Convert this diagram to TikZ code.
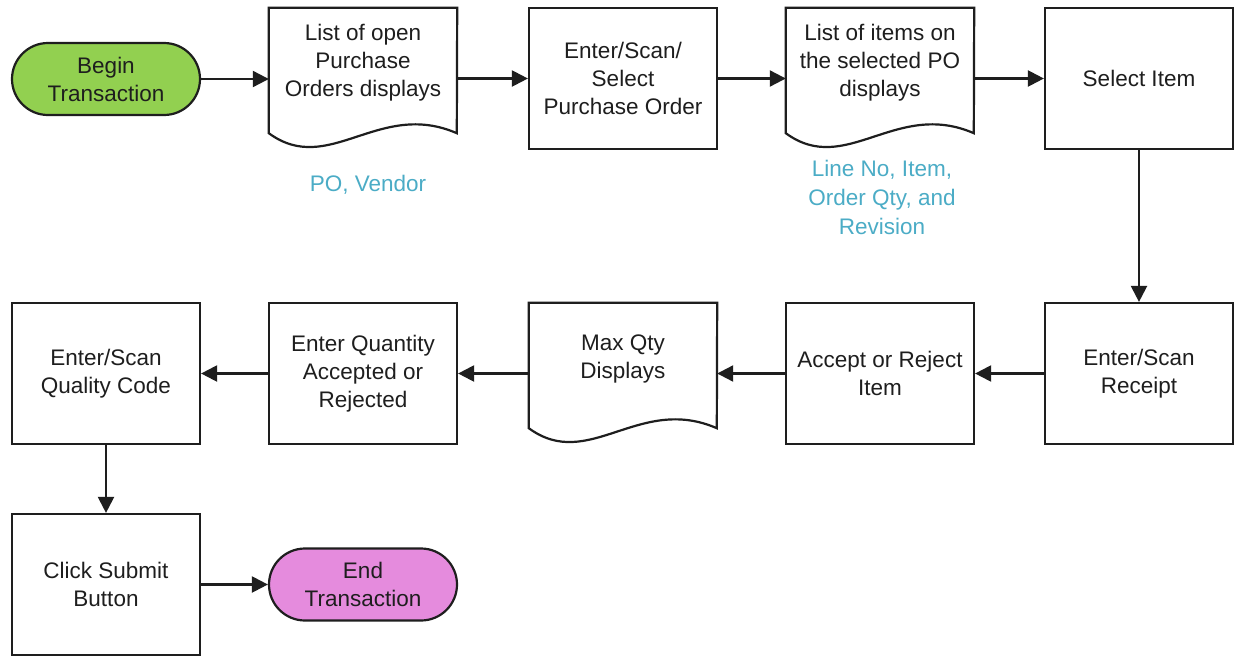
\documentclass[tikz,border=0pt]{standalone}
\usepackage{fontspec}
\setmainfont{Liberation Sans}
\usetikzlibrary{arrows.meta,calc,shapes.misc}
\definecolor{begingreen}{HTML}{92D050}
\definecolor{endpink}{HTML}{E58BDD}
\definecolor{noteblue}{HTML}{4BACC6}
\definecolor{ink}{HTML}{1E1E1E}
\tikzset{
  base/.style={font=\fontsize{22.5}{28}\selectfont, text=ink, align=center},
  procbox/.style={base, draw=ink, line width=2.2pt, fill=white, minimum width=188pt, minimum height=141pt, inner sep=0pt},
  docbox/.style={base, minimum width=188pt, minimum height=141pt, inner sep=0pt},
  doctext/.style={base, inner sep=0pt},
  pill/.style={base, draw=ink, line width=2.2pt, rounded rectangle, minimum width=188pt, minimum height=72pt, inner sep=0pt},
  note/.style={font=\fontsize{22.5}{29}\selectfont, text=noteblue, align=center},
  outline/.style={draw=ink, line width=2.2pt, fill=white},
  flow/.style={draw=ink, line width=2.2pt, -{Triangle[length=16pt,width=16pt]}},
}
\newcommand\docoutline[1]{%
  \draw[outline] (#1.north west) -- (#1.north east) -- ($(#1.south west)+(188,-16)$)
    .. controls ($(#1.south west)+(110,-50)$) and ($(#1.south west)+(60,28)$) .. ($(#1.south west)+(0,-16)$) -- cycle;}
\begin{document}
\begin{tikzpicture}[x=1pt,y=-1pt]
\useasboundingbox[fill=white] (0,0) rectangle (1235,656);

% top row
\node[pill, fill=begingreen] (begin) at (106,79) {Begin\\Transaction};
\node[docbox] (d1) at (363,78.5) {};
\docoutline{d1}
\node[doctext] (d1t) at ([yshift=15.5pt]d1.center) {List of open\\Purchase\\Orders displays};
\node[procbox] (enter) at (623,78.5) {Enter/Scan/\\Select\\Purchase Order};
\node[docbox] (d2) at (880,78.5) {};
\docoutline{d2}
\node[doctext] (d2t) at ([yshift=15.5pt]d2.center) {List of items on\\the selected PO\\displays};
\node[procbox] (sel) at (1139,78.5) {Select Item};

\node[note] (n1) at (368,185) {PO, Vendor};
\node[note] (n2) at (882,197) {Line No, Item,\\Order Qty, and\\Revision};

% middle row
\node[procbox] (rec) at (1139,373.5) {Enter/Scan\\Receipt};
\node[procbox] (acc) at (880,373.5) {Accept or Reject\\Item};
\node[docbox] (d3) at (623,373.5) {};
\docoutline{d3}
\node[doctext] (d3t) at ([yshift=15pt]d3.center) {Max Qty\\Displays};
\node[procbox] (qty) at (363,373.5) {Enter Quantity\\Accepted or\\Rejected};
\node[procbox] (qual) at (106,373.5) {Enter/Scan\\Quality Code};

% bottom row
\node[procbox] (sub) at (106,584.5) {Click Submit\\Button};
\node[pill, fill=endpink] (end) at (363,584.5) {End\\Transaction};

% connectors
\draw[flow] (begin.east) -- (begin.east -| d1.west);
\draw[flow] (d1.east) -- (enter.west);
\draw[flow] (enter.east) -- (d2.west);
\draw[flow] (d2.east) -- (sel.west);
\draw[flow] (sel.south) -- (rec.north);
\draw[flow] (rec.west) -- (acc.east);
\draw[flow] (acc.west) -- (d3.east);
\draw[flow] (d3.west) -- (qty.east);
\draw[flow] (qty.west) -- (qual.east);
\draw[flow] (qual.south) -- (sub.north);
\draw[flow] (sub.east) -- (end.west);
\end{tikzpicture}
\end{document}
